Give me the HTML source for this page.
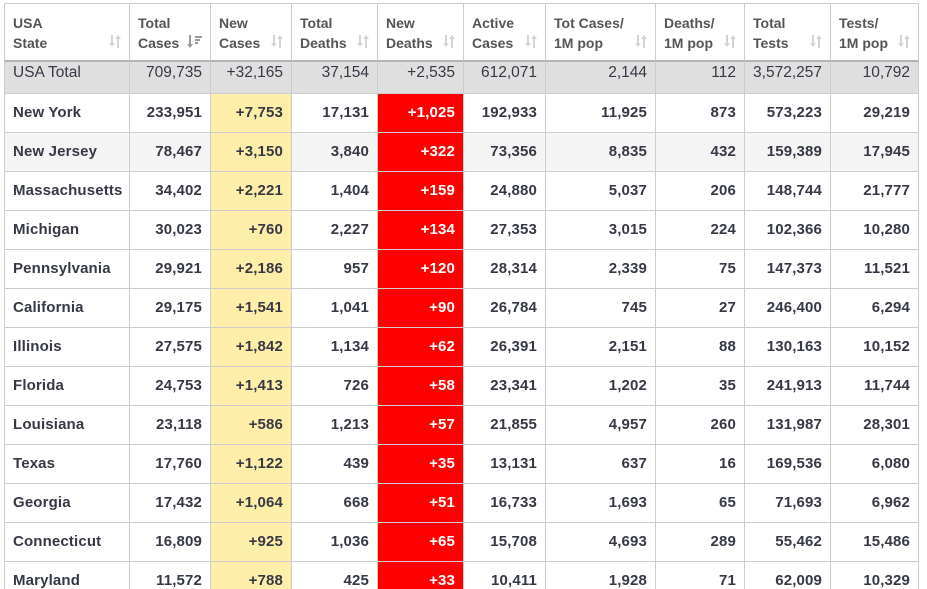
<!DOCTYPE html>
<html><head><meta charset="utf-8">
<style>
html,body{margin:0;padding:0;background:#fff;width:927px;height:589px;overflow:hidden;}
.wrap{position:relative;width:927px;height:589px;overflow:hidden;}
.t{position:absolute;left:4px;top:3px;border-left:1px solid #ccc;border-top:1px solid #ccc;display:grid;
grid-template-columns:125px 81px 81px 86px 86px 82px 110px 89px 86px 88px;
grid-template-rows:58px 32px repeat(13,39px);
font-family:"Liberation Sans",Arial,sans-serif;}
.t>div{box-sizing:border-box;border-right:1px solid #ccc;border-bottom:1px solid #ccc;position:relative;white-space:nowrap;}
.h{border-bottom:2px solid #b3b3b3 !important;padding:9px 8px 0 8px;font-weight:bold;font-size:14px;line-height:20px;color:#555;}
.h svg{position:absolute;right:8px;top:31px;}
.tot{background:#dfdfdf;font-size:15.5px;color:#363945;text-align:right;padding:1px 8px 0 8px;line-height:20px;}
.tot.l{text-align:left;}
.r{font-weight:bold;font-size:15px;color:#363945;text-align:right;padding:0 8px;line-height:38px;letter-spacing:0.15px;}
.r.l{text-align:left;}
.g{background:#f4f4f4;}
.y{background:#ffeeaa;}
.d{background:#ff0000;color:#fff;}
</style></head><body>
<div class="wrap">
<div class="t">
<div class="h">USA<br>State<svg width="12" height="13" viewBox="0 0 12 13"><g fill="#d4d4d4"><rect x="2" y="0" width="2" height="9"/><polygon points="0,8 6,8 3,12"/><rect x="8" y="3" width="2" height="10"/><polygon points="6,4 12,4 9,0"/></g></svg></div>
<div class="h">Total<br>Cases<svg width="15" height="14" viewBox="0 0 15 14"><g fill="#9a9a9a"><rect x="2" y="0" width="2" height="10"/><polygon points="0,9 6,9 3,13"/><rect x="8" y="1" width="7" height="2"/><rect x="8" y="4" width="5" height="2"/><rect x="8" y="7" width="3" height="2"/></g></svg></div>
<div class="h">New<br>Cases<svg width="12" height="13" viewBox="0 0 12 13"><g fill="#d4d4d4"><rect x="2" y="0" width="2" height="9"/><polygon points="0,8 6,8 3,12"/><rect x="8" y="3" width="2" height="10"/><polygon points="6,4 12,4 9,0"/></g></svg></div>
<div class="h">Total<br>Deaths<svg width="12" height="13" viewBox="0 0 12 13"><g fill="#d4d4d4"><rect x="2" y="0" width="2" height="9"/><polygon points="0,8 6,8 3,12"/><rect x="8" y="3" width="2" height="10"/><polygon points="6,4 12,4 9,0"/></g></svg></div>
<div class="h">New<br>Deaths<svg width="12" height="13" viewBox="0 0 12 13"><g fill="#d4d4d4"><rect x="2" y="0" width="2" height="9"/><polygon points="0,8 6,8 3,12"/><rect x="8" y="3" width="2" height="10"/><polygon points="6,4 12,4 9,0"/></g></svg></div>
<div class="h">Active<br>Cases<svg width="12" height="13" viewBox="0 0 12 13"><g fill="#d4d4d4"><rect x="2" y="0" width="2" height="9"/><polygon points="0,8 6,8 3,12"/><rect x="8" y="3" width="2" height="10"/><polygon points="6,4 12,4 9,0"/></g></svg></div>
<div class="h">Tot Cases/<br>1M pop<svg width="12" height="13" viewBox="0 0 12 13"><g fill="#d4d4d4"><rect x="2" y="0" width="2" height="9"/><polygon points="0,8 6,8 3,12"/><rect x="8" y="3" width="2" height="10"/><polygon points="6,4 12,4 9,0"/></g></svg></div>
<div class="h">Deaths/<br>1M pop<svg width="12" height="13" viewBox="0 0 12 13"><g fill="#d4d4d4"><rect x="2" y="0" width="2" height="9"/><polygon points="0,8 6,8 3,12"/><rect x="8" y="3" width="2" height="10"/><polygon points="6,4 12,4 9,0"/></g></svg></div>
<div class="h">Total<br>Tests<svg width="12" height="13" viewBox="0 0 12 13"><g fill="#d4d4d4"><rect x="2" y="0" width="2" height="9"/><polygon points="0,8 6,8 3,12"/><rect x="8" y="3" width="2" height="10"/><polygon points="6,4 12,4 9,0"/></g></svg></div>
<div class="h">Tests/<br>1M pop<svg width="12" height="13" viewBox="0 0 12 13"><g fill="#d4d4d4"><rect x="2" y="0" width="2" height="9"/><polygon points="0,8 6,8 3,12"/><rect x="8" y="3" width="2" height="10"/><polygon points="6,4 12,4 9,0"/></g></svg></div>

<div class="tot l">USA Total</div><div class="tot">709,735</div><div class="tot">+32,165</div><div class="tot">37,154</div><div class="tot">+2,535</div><div class="tot">612,071</div><div class="tot">2,144</div><div class="tot">112</div><div class="tot">3,572,257</div><div class="tot">10,792</div>

<div class="r l">New York</div><div class="r">233,951</div><div class="r y">+7,753</div><div class="r">17,131</div><div class="r d">+1,025</div><div class="r">192,933</div><div class="r">11,925</div><div class="r">873</div><div class="r">573,223</div><div class="r">29,219</div>

<div class="r l g">New Jersey</div><div class="r g">78,467</div><div class="r y">+3,150</div><div class="r g">3,840</div><div class="r d">+322</div><div class="r g">73,356</div><div class="r g">8,835</div><div class="r g">432</div><div class="r g">159,389</div><div class="r g">17,945</div>

<div class="r l">Massachusetts</div><div class="r">34,402</div><div class="r y">+2,221</div><div class="r">1,404</div><div class="r d">+159</div><div class="r">24,880</div><div class="r">5,037</div><div class="r">206</div><div class="r">148,744</div><div class="r">21,777</div>

<div class="r l">Michigan</div><div class="r">30,023</div><div class="r y">+760</div><div class="r">2,227</div><div class="r d">+134</div><div class="r">27,353</div><div class="r">3,015</div><div class="r">224</div><div class="r">102,366</div><div class="r">10,280</div>

<div class="r l">Pennsylvania</div><div class="r">29,921</div><div class="r y">+2,186</div><div class="r">957</div><div class="r d">+120</div><div class="r">28,314</div><div class="r">2,339</div><div class="r">75</div><div class="r">147,373</div><div class="r">11,521</div>

<div class="r l">California</div><div class="r">29,175</div><div class="r y">+1,541</div><div class="r">1,041</div><div class="r d">+90</div><div class="r">26,784</div><div class="r">745</div><div class="r">27</div><div class="r">246,400</div><div class="r">6,294</div>

<div class="r l">Illinois</div><div class="r">27,575</div><div class="r y">+1,842</div><div class="r">1,134</div><div class="r d">+62</div><div class="r">26,391</div><div class="r">2,151</div><div class="r">88</div><div class="r">130,163</div><div class="r">10,152</div>

<div class="r l">Florida</div><div class="r">24,753</div><div class="r y">+1,413</div><div class="r">726</div><div class="r d">+58</div><div class="r">23,341</div><div class="r">1,202</div><div class="r">35</div><div class="r">241,913</div><div class="r">11,744</div>

<div class="r l">Louisiana</div><div class="r">23,118</div><div class="r y">+586</div><div class="r">1,213</div><div class="r d">+57</div><div class="r">21,855</div><div class="r">4,957</div><div class="r">260</div><div class="r">131,987</div><div class="r">28,301</div>

<div class="r l">Texas</div><div class="r">17,760</div><div class="r y">+1,122</div><div class="r">439</div><div class="r d">+35</div><div class="r">13,131</div><div class="r">637</div><div class="r">16</div><div class="r">169,536</div><div class="r">6,080</div>

<div class="r l">Georgia</div><div class="r">17,432</div><div class="r y">+1,064</div><div class="r">668</div><div class="r d">+51</div><div class="r">16,733</div><div class="r">1,693</div><div class="r">65</div><div class="r">71,693</div><div class="r">6,962</div>

<div class="r l">Connecticut</div><div class="r">16,809</div><div class="r y">+925</div><div class="r">1,036</div><div class="r d">+65</div><div class="r">15,708</div><div class="r">4,693</div><div class="r">289</div><div class="r">55,462</div><div class="r">15,486</div>

<div class="r l">Maryland</div><div class="r">11,572</div><div class="r y">+788</div><div class="r">425</div><div class="r d">+33</div><div class="r">10,411</div><div class="r">1,928</div><div class="r">71</div><div class="r">62,009</div><div class="r">10,329</div>
</div>
</div>
</body></html>
